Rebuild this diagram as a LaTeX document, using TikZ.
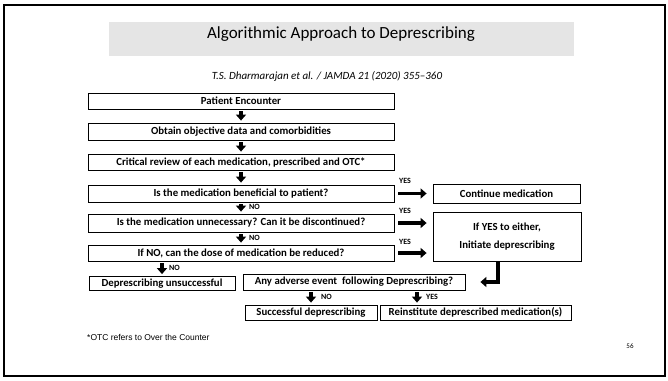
\documentclass[tikz,border=0pt]{standalone}
\usepackage{fontspec}
\setmainfont{Carlito}
\newfontfamily\arialfont{Liberation Sans}
\usetikzlibrary{arrows.meta}
\tikzset{box/.style={draw=black, line width=0.8pt, inner sep=0pt, font=\bfseries\fontsize{10.8}{12}\selectfont},
         fat/.style={line width=3.5pt, -{Triangle[width=10pt,length=6pt]}},
         lbl/.style={inner sep=0pt, font=\bfseries\fontsize{8}{9}\selectfont}}

\begin{document}
\begin{tikzpicture}[x=1pt,y=-1pt]
  \useasboundingbox (0,0) rectangle (668,380);
  \draw[line width=2pt] (4,5) rectangle (665,376);
  % heading
  \fill[black!10] (109,22) rectangle (574,56);
  \node (title) at (341,34) {\fontsize{17}{20}\selectfont Algorithmic Approach to Deprescribing};
  \node (cite) at (327,76) {\itshape\fontsize{11}{13}\selectfont T.S. Dharmarajan et al. / JAMDA 21 (2020) 355--360};
  % left column
  \node[box, minimum width=306pt, minimum height=16pt] (pe) at (241,101) {Patient Encounter};
  \node[box, minimum width=306pt, minimum height=17pt] (ob) at (241,131.5) {Obtain objective data and comorbidities};
  \node[box, minimum width=306pt, minimum height=16pt] (cr) at (241,162) {Critical review of each medication, prescribed and OTC*};
  \node[box, minimum width=306pt, minimum height=17pt] (be) at (241,193.5) {Is the medication beneficial to patient?};
  \node[box, minimum width=306pt, minimum height=18pt] (un) at (241,223) {Is the medication unnecessary? Can it be discontinued?};
  \node[box, minimum width=306pt, minimum height=16pt] (ifno) at (241,253) {If NO, can the dose of medication be reduced?};
  % right column
  \node[box, minimum width=147pt, minimum height=19pt] (cont) at (506.5,193.5) {Continue medication};
  \node[box, minimum width=148pt, minimum height=49pt, align=center] (ye) at (507,236.5) {If YES to either,\\[6pt]Initiate deprescribing};
  % bottom rows
  \node[box, minimum width=146pt, minimum height=14pt] (du) at (162,283.5) {Deprescribing unsuccessful};
  \node[box, minimum width=222pt, minimum height=16pt] (ae) at (354,282) {Any adverse event\ \ following Deprescribing?};
  \node[box, minimum width=132pt, minimum height=15pt] (suc) at (311,312.5) {Successful deprescribing};
  \node[box, minimum width=191pt, minimum height=15pt] (rei) at (475.5,312.5) {Reinstitute deprescribed medication(s)};
  % arrows
  \draw[fat, shorten <=2pt, shorten >=2pt] (pe) -- (ob);
  \draw[fat, shorten <=2pt, shorten >=2pt] (ob) -- (cr);
  \draw[fat, shorten <=2pt, shorten >=2pt] (cr) -- (be);
  \draw[fat, shorten <=2pt, shorten >=2pt] (be) -- (un);
  \draw[fat, shorten <=2pt, shorten >=2pt] (un) -- (ifno);
  \draw[fat, shorten <=2pt, shorten >=2pt] (ifno.south -| du.north) -- (du.north);
  \draw[fat, shorten <=4pt, shorten >=6pt] (be.east) -- (cont.west);
  \draw[fat, shorten <=4pt, shorten >=6pt] (un.east) -- (un.east -| ye.west);
  \draw[fat, shorten <=4pt, shorten >=6pt] (ifno.east) -- (ifno.east -| ye.west);
  \draw[line width=3.5pt, -{Triangle[width=10pt,length=6pt]}, shorten >=15pt]
    ([xshift=-9pt]ye.south) |- (ae.east);
  \draw[fat, shorten <=2pt, shorten >=2pt] (ae.south -| suc.north) -- (suc.north);
  \draw[fat, shorten <=2pt, shorten >=2pt] ([xshift=63pt]ae.south) -- ([xshift=63pt]ae.south |- rei.north);
  % YES / NO labels
  \node[lbl] (y1) at (405,181) {YES};
  \node[lbl] (y2) at (405,211) {YES};
  \node[lbl] (y3) at (405,242) {YES};
  \node[lbl, anchor=west] (n1) at (249,207) {NO};
  \node[lbl, anchor=west] (n2) at (249,237.5) {NO};
  \node[lbl, anchor=west] (n3) at (169,267.5) {NO};
  \node[lbl, anchor=west] (n4) at (321,297) {NO};
  \node[lbl, anchor=west] (n5) at (426,297) {YES};
  % footer
  \node[anchor=west, inner sep=0pt] (foot) at (87,337) {\arialfont\fontsize{8.5}{10}\selectfont *OTC refers to Over the Counter};
  \node[inner sep=0pt] (page) at (630,346) {\fontsize{7}{8}\selectfont 56};
\end{tikzpicture}
\end{document}
